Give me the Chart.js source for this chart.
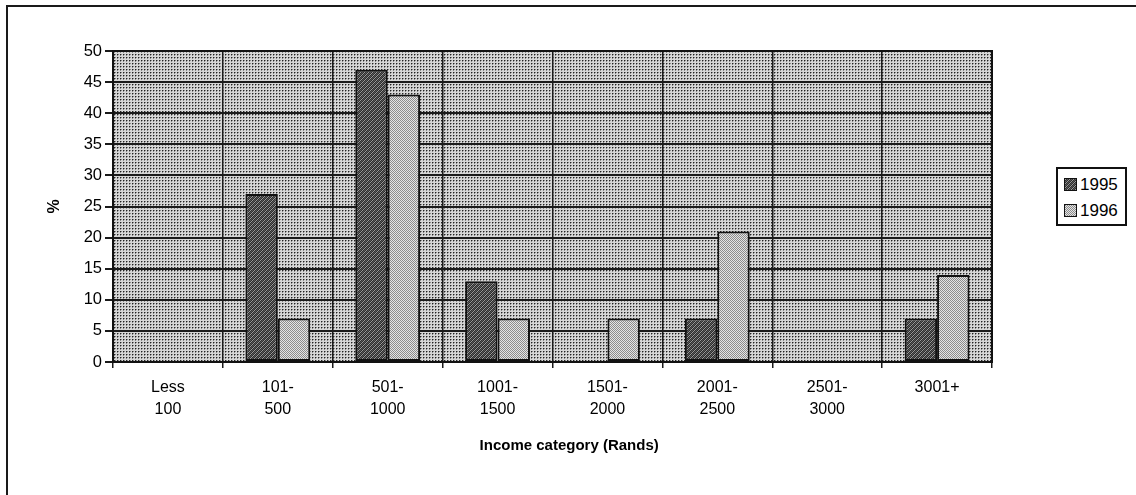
<!DOCTYPE html>
<html>
<head>
<meta charset="utf-8">
<script src="https://cdn.jsdelivr.net/npm/chart.js@4/dist/chart.umd.min.js"></script>
<style>
  html, body { margin: 0; padding: 0; background: #fff; }
  #wrap { position: relative; width: 1136px; height: 495px; overflow: hidden; background: #fff; }
  #frame { position: absolute; left: 6px; top: 5px; width: 1200px; height: 600px;
           border-left: 2px solid #1a1a1a; border-top: 2px solid #1a1a1a; }
  #chart { position: absolute; left: 0; top: 0; }
  #legend { position: absolute; left: 1056px; top: 167px; width: 71px; height: 59px;
            border: 2px solid #111; background: #fff; box-sizing: border-box;
            font: 17px "Liberation Sans", Arial, sans-serif; color: #000; }
  .item { position: absolute; left: 6px; height: 20px; line-height: 20px; white-space: nowrap; }
  .swatch { display: inline-block; width: 11px; height: 11px; border: 1px solid #111;
            vertical-align: -1px; margin-right: 3px; }
</style>
</head>
<body>
<div id="wrap">
  <div id="frame"></div>
  <canvas id="chart" width="1136" height="495"></canvas>
  <div id="legend"></div>
</div>
<script>
// Income categories (Rands), two-line labels
const categories = [
  ["Less", "100"], ["101-", "500"], ["501-", "1000"], ["1001-", "1500"],
  ["1501-", "2000"], ["2001-", "2500"], ["2501-", "3000"], ["3001+"]
];
const seriesNames = ["1995", "1996"];
// Percentage of respondents per income category
const values1995 = [0, 27, 47, 13, 0, 7, 0, 7];
const values1996 = [0, 7, 43, 7, 7, 21, 0, 14];
// Value axis
const yMin = 0;
const yMax = 50;
const yStep = 5;

// Small raster textures used as fills
function makePattern(size, painter) {
  const c = document.createElement('canvas');
  c.width = size; c.height = size;
  const g = c.getContext('2d');
  painter(g);
  return c;
}
const plotTile = makePattern(3, g => {
  g.fillStyle = '#d6d6d6'; g.fillRect(0, 0, 3, 3);
  g.fillStyle = '#222'; g.fillRect(0, 0, 1, 1);
  g.fillStyle = '#888'; g.fillRect(1, 0, 1, 1); g.fillRect(0, 1, 1, 1);
});
const darkTile = makePattern(4, g => {
  g.fillStyle = '#2e2e2e'; g.fillRect(0, 0, 4, 4);
  g.fillStyle = '#9a9a9a';
  for (let i = 0; i < 4; i++) g.fillRect(i, (4 - i) % 4, 1, 1);
  g.fillStyle = '#5a5a5a';
  for (let i = 0; i < 4; i++) g.fillRect(i, (6 - i) % 4, 1, 1);
});
const lightTile = makePattern(2, g => {
  g.fillStyle = '#e4e4e4'; g.fillRect(0, 0, 2, 2);
  g.fillStyle = '#8c8c8c'; g.fillRect(0, 0, 1, 1); g.fillRect(1, 1, 1, 1);
});

const ctx = document.getElementById('chart').getContext('2d');
const plotFill = ctx.createPattern(plotTile, 'repeat');
const fills = [ctx.createPattern(darkTile, 'repeat'), ctx.createPattern(lightTile, 'repeat')];

// Legend built from the series names
const legendEl = document.getElementById('legend');
[darkTile, lightTile].forEach((tile, i) => {
  const row = document.createElement('div');
  row.className = 'item';
  row.style.top = (6 + i * 26) + 'px';
  const sw = document.createElement('span');
  sw.className = 'swatch';
  sw.style.backgroundImage = 'url(' + tile.toDataURL() + ')';
  row.appendChild(sw);
  row.appendChild(document.createTextNode(seriesNames[i]));
  legendEl.appendChild(row);
});

// Textured plot background behind the grid, plus the plot outline
const plotBackground = {
  id: 'plotBackground',
  beforeDraw(chart) {
    const a = chart.chartArea;
    const c = chart.ctx;
    c.save();
    c.fillStyle = plotFill;
    c.fillRect(a.left, a.top, a.right - a.left, a.bottom - a.top);
    c.restore();
  },
  afterDraw(chart) {
    const a = chart.chartArea;
    const c = chart.ctx;
    c.save();
    c.strokeStyle = '#111';
    c.lineWidth = 2;
    c.strokeRect(a.left, a.top, a.right - a.left, a.bottom - a.top);
    c.restore();
  }
};

const font = { family: '"Liberation Sans", Arial, sans-serif', size: 16 };

new Chart(ctx, {
  type: 'bar',
  data: {
    labels: categories,
    datasets: [
      { label: seriesNames[0], data: values1995, backgroundColor: fills[0] },
      { label: seriesNames[1], data: values1996, backgroundColor: fills[1] }
    ]
  },
  options: {
    responsive: false,
    animation: false,
    devicePixelRatio: 1,
    layout: { padding: { top: 51, right: 144, bottom: 0, left: 0 } },
    datasets: {
      bar: {
        categoryPercentage: 0.59,
        barPercentage: 1.0,
        borderColor: '#111',
        borderWidth: 2,
        borderSkipped: false
      }
    },
    plugins: {
      legend: { display: false },
      tooltip: { enabled: false }
    },
    scales: {
      x: {
        grid: { display: true, offset: true, color: '#1a1a1a', lineWidth: 1.5, tickLength: 6, drawTicks: true },
        border: { display: true, color: '#111', width: 2 },
        ticks: { color: '#000', font: { ...font, lineHeight: 1.4 }, padding: 8, maxRotation: 0, autoSkip: false },
        title: {
          display: true, text: '        Income category (Rands)', color: '#000',
          font: { ...font, size: 15, weight: 'bold' }, padding: { top: 0, bottom: 40 }
        },
        afterFit(scale) { scale.height = 133; }
      },
      y: {
        min: yMin, max: yMax,
        grid: { color: '#1a1a1a', lineWidth: 2, tickLength: 8, drawTicks: true },
        border: { display: true, color: '#111', width: 2 },
        ticks: { stepSize: yStep, color: '#000', font: { ...font, size: 16.5 }, padding: 3 },
        title: {
          display: true, text: '%', color: '#000',
          font: { ...font, size: 16, weight: 'bold' }, padding: { top: 45, bottom: 0 }
        },
        afterFit(scale) { scale.width = 113; }
      }
    }
  },
  plugins: [plotBackground]
});
</script>
</body>
</html>
